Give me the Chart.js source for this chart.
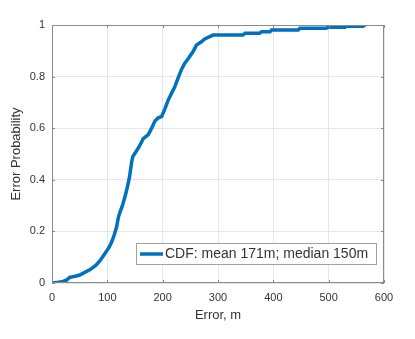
<!DOCTYPE html>
<html>
<head>
<meta charset="utf-8">
<title>CDF of error</title>
<script src="https://cdn.jsdelivr.net/npm/chart.js"></script>
<style>
    html, body { margin: 0; padding: 0; background: #ffffff; }
    #cdf-chart { display: block; }
</style>
</head>
<body>
<canvas id="cdf-chart" width="415" height="339"></canvas>
<script>
    // error values (m) and cumulative probability
    let errorM = [0, 12, 20, 27, 32, 42, 50, 60, 69, 80, 88, 96, 103, 108, 113, 117, 120, 123, 128, 132,
        136, 140, 142, 144, 146, 150, 158, 165, 174, 180, 186, 192, 198, 204, 210, 216, 222, 228, 234, 240,
        247, 255, 261, 270, 276, 285, 291, 345, 349, 375, 379, 394, 397, 445, 448, 495, 499, 530, 532, 562, 566];
    let probability = [0, 0.003, 0.006, 0.012, 0.022, 0.026, 0.031, 0.042, 0.052, 0.07, 0.09, 0.115, 0.138, 0.16, 0.19, 0.22, 0.255, 0.275, 0.305, 0.335,
        0.37, 0.41, 0.44, 0.47, 0.49, 0.503, 0.53, 0.56, 0.575, 0.6, 0.628, 0.64, 0.645, 0.675, 0.709, 0.735, 0.761, 0.795, 0.828, 0.852,
        0.872, 0.897, 0.922, 0.935, 0.946, 0.955, 0.961, 0.961, 0.968, 0.968, 0.974, 0.974, 0.981, 0.981, 0.987, 0.987, 0.991, 0.991, 0.995, 0.995, 1.0];

    let xTicks = ['0', '100', '200', '300', '400', '500', '600'];
    let yTicks = ['0', '0.2', '0.4', '0.6', '0.8', '1'];
    let seriesLabel = 'CDF: mean 171m; median 150m';

    let points = errorM.map((x, i) => ({ x: x, y: probability[i] }));

    let textColor = '#333333';
    let lineBlue = '#0072BD';

    // box, inner ticks and legend drawn on top of the plot like MATLAB
    let matlabBox = {
        id: 'matlabBox',
        afterDatasetsDraw(chart) {
            let ctx = chart.ctx;
            let a = chart.chartArea;
            let xs = chart.scales.x;
            let ys = chart.scales.y;
            ctx.save();
            ctx.strokeStyle = '#8a8a8a';
            ctx.lineWidth = 1;
            ctx.strokeRect(a.left + 0.5, a.top + 0.5, a.right - a.left - 1, a.bottom - a.top - 1);

            ctx.beginPath();
            xs.ticks.forEach(t => {
                let px = Math.round(xs.getPixelForValue(t.value)) + 0.5;
                ctx.moveTo(px, a.bottom);
                ctx.lineTo(px, a.bottom - 3);
                ctx.moveTo(px, a.top);
                ctx.lineTo(px, a.top + 3);
            });
            ys.ticks.forEach(t => {
                let py = Math.round(ys.getPixelForValue(t.value)) + 0.5;
                ctx.moveTo(a.left, py);
                ctx.lineTo(a.left + 3, py);
                ctx.moveTo(a.right, py);
                ctx.lineTo(a.right - 3, py);
            });
            ctx.stroke();

            // legend box
            let lx = 136, ly = 243, lw = 240, lh = 21;
            ctx.fillStyle = '#ffffff';
            ctx.fillRect(lx, ly, lw, lh);
            ctx.strokeStyle = '#a0a0a0';
            ctx.strokeRect(lx + 0.5, ly + 0.5, lw, lh);
            ctx.strokeStyle = lineBlue;
            ctx.lineWidth = 3.5;
            ctx.beginPath();
            ctx.moveTo(lx + 4, ly + lh / 2 + 0.5);
            ctx.lineTo(lx + 27, ly + lh / 2 + 0.5);
            ctx.stroke();
            ctx.fillStyle = textColor;
            ctx.font = '14px "Liberation Sans", Arial, sans-serif';
            ctx.textBaseline = 'middle';
            ctx.textAlign = 'left';
            ctx.fillText(seriesLabel, lx + 29, ly + lh / 2 + 1);
            ctx.restore();
        }
    };

    let cdfChart = document.getElementById('cdf-chart').getContext('2d');

    let chart = new Chart(cdfChart, {
        type: 'line',
        data: {
            datasets: [{
                label: seriesLabel,
                data: points,
                borderColor: lineBlue,
                borderWidth: 3.5,
                pointRadius: 0,
                fill: false,
                tension: 0
            }]
        },
        options: {
            responsive: false,
            animation: false,
            layout: {
                padding: { top: 25, right: 31, left: 0, bottom: 0 }
            },
            plugins: {
                legend: { display: false },
                tooltip: { enabled: false }
            },
            scales: {
                x: {
                    type: 'linear',
                    min: 0,
                    max: 600,
                    afterFit: (scale) => { scale.height = 56; },
                    grid: { color: '#e6e6e6', drawTicks: false },
                    border: { display: false },
                    ticks: {
                        stepSize: 100,
                        padding: 8,
                        maxRotation: 0,
                        color: textColor,
                        font: { family: '"Liberation Sans", Arial, sans-serif', size: 11 },
                        callback: (value) => xTicks[Math.round(value / 100)]
                    },
                    title: {
                        display: true,
                        text: 'Error, m',
                        color: textColor,
                        font: { family: '"Liberation Sans", Arial, sans-serif', size: 13 },
                        padding: { top: 0, bottom: 16 }
                    }
                },
                y: {
                    min: 0,
                    max: 1,
                    afterFit: (scale) => { scale.width = 52; },
                    grid: { color: '#e6e6e6', drawTicks: false },
                    border: { display: false },
                    ticks: {
                        stepSize: 0.2,
                        padding: 7,
                        color: textColor,
                        font: { family: '"Liberation Sans", Arial, sans-serif', size: 11 },
                        callback: (value) => yTicks[Math.round(value * 5)]
                    },
                    title: {
                        display: true,
                        text: 'Error Probability',
                        color: textColor,
                        font: { family: '"Liberation Sans", Arial, sans-serif', size: 13 },
                        padding: { top: 9, bottom: 0 }
                    }
                }
            }
        },
        plugins: [matlabBox]
    });
</script>
</body>
</html>
